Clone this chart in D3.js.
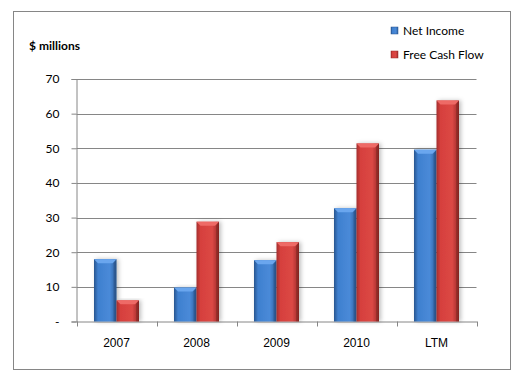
<!DOCTYPE html>
<html lang="en">
<head>
  <meta charset="UTF-8">
  <title>Net Income vs Free Cash Flow</title>
  <style>
    body { margin: 0; background: #fff; }
    svg { display: block; font-family: Lato, "Open Sans", sans-serif; }
    .tick text { font-size: 12px; fill: #000; }
  </style>
</head>
<body>
  <script src="https://cdn.jsdelivr.net/npm/d3@7"></script>
  <svg id="chart" width="517" height="377"></svg>
  <script>
    const categories = ['2007', '2008', '2009', '2010', 'LTM']
    const netIncome = [18, 9.8, 17.7, 32.7, 49.6]
    const freeCashFlow = [6.1, 28.8, 22.9, 51.4, 63.8]
    const seriesNames = ['Net Income', 'Free Cash Flow']
    const yTicks = [0, 10, 20, 30, 40, 50, 60, 70]

    const svg = d3.select('#chart')
    const plotLeft = 76.5, plotRight = 476.5, plotTop = 79, plotBottom = 321.5

    // outer frame
    svg.append('rect')
      .attr('x', 13.5).attr('y', 11.5)
      .attr('width', 497).attr('height', 358)
      .attr('fill', '#fff').attr('stroke', '#868686')

    const x = d3.scaleBand().domain(categories).range([plotLeft, plotRight])
    const x1 = d3.scaleBand().domain(seriesNames).range([x.bandwidth() / 2 - 22.5, x.bandwidth() / 2 + 22.5])
    const y = d3.scaleLinear().domain([0, 70]).range([plotBottom, plotTop])

    // gradients for the bevelled bars
    const defs = svg.append('defs')
    const palettes = {
      'Net Income': ['#28558f', '#3f80cf', '#4a8ad8', '#2d5f9e'],
      'Free Cash Flow': ['#a42e2c', '#d6403d', '#dc4845', '#9a2a28']
    }
    seriesNames.forEach((s, i) => {
      const g = defs.append('linearGradient').attr('id', 'grad' + i)
      const c = palettes[s]
      g.append('stop').attr('offset', '0%').attr('stop-color', c[0])
      g.append('stop').attr('offset', '18%').attr('stop-color', c[1])
      g.append('stop').attr('offset', '70%').attr('stop-color', c[2])
      g.append('stop').attr('offset', '100%').attr('stop-color', c[3])
    })
    const shadow = defs.append('filter').attr('id', 'shadow')
      .attr('x', '-30%').attr('y', '-10%').attr('width', '160%').attr('height', '120%')
    shadow.append('feDropShadow').attr('dx', 2).attr('dy', 0).attr('stdDeviation', 2)
      .attr('flood-color', '#000').attr('flood-opacity', 0.25)

    // gridlines
    svg.append('g')
      .selectAll('line')
      .data(yTicks.slice(1))
      .enter()
      .append('line')
      .attr('x1', plotLeft).attr('x2', plotRight)
      .attr('y1', d => Math.round(y(d)) + 0.5).attr('y2', d => Math.round(y(d)) + 0.5)
      .attr('stroke', '#868686')

    // y axis
    const yAxis = svg.append('g')
      .attr('transform', `translate(${plotLeft},0)`)
      .call(d3.axisLeft(y).tickValues(yTicks).tickSize(5).tickPadding(12)
        .tickFormat(d => d === 0 ? '-' : d))
    yAxis.selectAll('path, line').attr('stroke', '#868686')
    yAxis.selectAll('text').style('font-family', 'Lato, sans-serif')

    // x axis
    const xAxis = svg.append('g')
      .attr('transform', `translate(0,${plotBottom})`)
      .call(d3.axisBottom(x).tickSize(0).tickPadding(17))
    xAxis.select('.domain').attr('stroke', '#868686')
    xAxis.selectAll('.bnd')
      .data(d3.range(categories.length + 1))
      .enter()
      .append('line')
      .attr('x1', i => Math.round(plotLeft + i * x.step()) + 0.5)
      .attr('x2', i => Math.round(plotLeft + i * x.step()) + 0.5)
      .attr('y1', 0).attr('y2', 5)
      .attr('stroke', '#868686')

    // bars
    const data = categories.map((c, i) => ({ cat: c, vals: [netIncome[i], freeCashFlow[i]] }))
    const groups = svg.append('g')
      .selectAll('g')
      .data(data)
      .enter()
      .append('g')
      .attr('transform', d => `translate(${x(d.cat)},0)`)
    const bar = groups.selectAll('g')
      .data(d => d.vals.map((v, i) => ({ s: seriesNames[i], i: i, v: v })))
      .enter()
      .append('g')
    bar.append('rect')
      .attr('x', d => x1(d.s))
      .attr('y', d => y(d.v))
      .attr('width', x1.bandwidth())
      .attr('height', d => plotBottom - y(d.v))
      .attr('fill', d => `url(#grad${d.i})`)
      .attr('filter', 'url(#shadow)')
    // top bevel
    bar.append('path')
      .attr('d', d => {
        const x0 = x1(d.s), w = x1.bandwidth(), t = y(d.v)
        return `M${x0},${t} L${x0 + w},${t} L${x0 + w - 4},${t + 4} L${x0 + 4},${t + 4} Z`
      })
      .attr('fill', d => d.i === 0 ? '#6aa6ee' : '#ee6a66')
    // right edge darkening
    bar.append('path')
      .attr('d', d => {
        const x0 = x1(d.s), w = x1.bandwidth(), t = y(d.v)
        return `M${x0 + w},${t} L${x0 + w},${plotBottom} L${x0 + w - 3},${plotBottom} L${x0 + w - 3},${t + 4} Z`
      })
      .attr('fill', '#000').attr('fill-opacity', 0.15)

    // y title
    svg.append('text')
      .attr('x', 29).attr('y', 50)
      .attr('font-size', 12).attr('font-weight', 'bold')
      .text('$ millions')

    // legend
    const legend = svg.append('g')
      .selectAll('g')
      .data(seriesNames)
      .enter()
      .append('g')
      .attr('transform', (d, i) => `translate(391,${27 + i * 24})`)
    legend.append('rect')
      .attr('width', 7).attr('height', 7)
      .attr('fill', (d, i) => `url(#grad${i})`)
      .attr('stroke', (d, i) => i === 0 ? '#28558f' : '#9a2a28').attr('stroke-width', 0.5)
    legend.append('text')
      .attr('x', 12).attr('y', 8)
      .attr('font-size', 12)
      .text(d => d)
  </script>
</body>
</html>
